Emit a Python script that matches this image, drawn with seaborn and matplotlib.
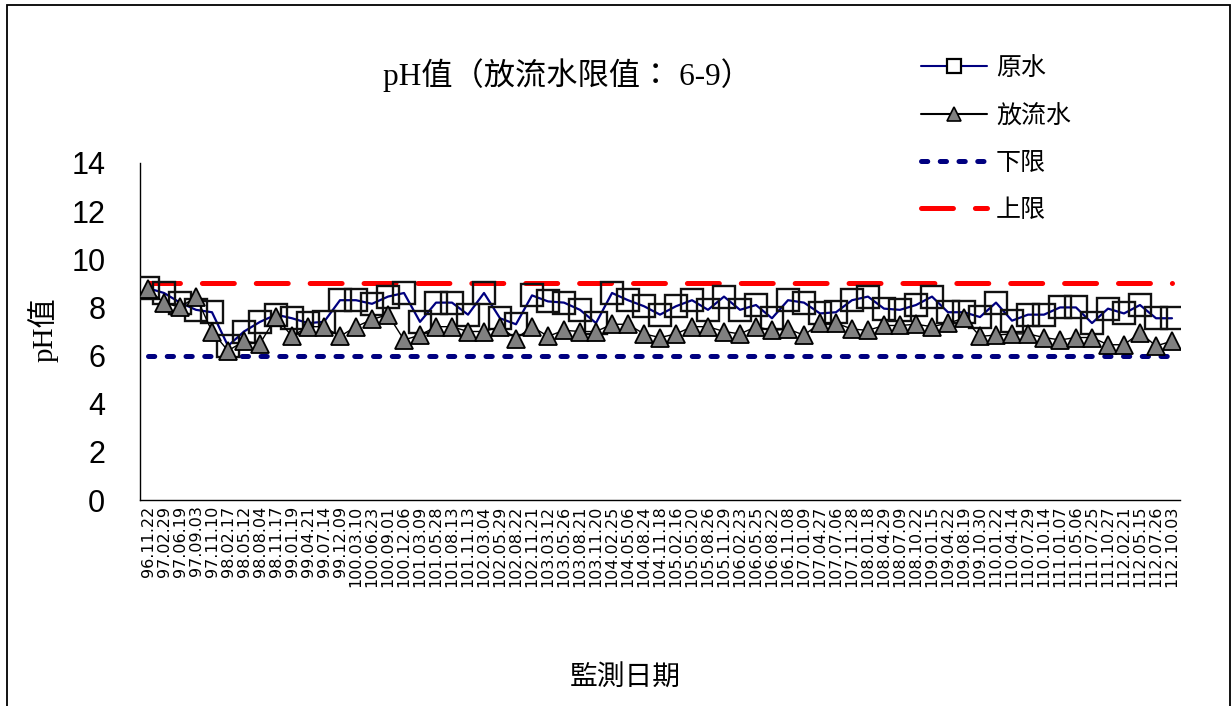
import numpy as np
import pandas as pd
import matplotlib
matplotlib.use("Agg")
import matplotlib.pyplot as plt
import seaborn as sns
from matplotlib.lines import Line2D
from matplotlib.patches import Rectangle
from matplotlib.font_manager import FontProperties

# ---------------- data ----------------
dates = [
    "96.11.22", "97.02.29", "97.06.19", "97.09.03", "97.11.10", "98.02.17", "98.05.12",
    "98.08.04", "98.11.17", "99.01.19", "99.04.21", "99.07.14", "99.12.09", "100.03.10",
    "100.06.23", "100.09.01", "100.12.06", "101.03.09", "101.05.28", "101.08.13",
    "101.11.13", "102.03.04", "102.05.29", "102.08.22", "102.11.21", "103.03.12",
    "103.05.26", "103.08.21", "103.11.20", "104.02.25", "104.05.06", "104.08.24",
    "104.11.18", "105.02.16", "105.05.20", "105.08.26", "105.11.29", "106.02.23",
    "106.05.25", "106.08.22", "106.11.08", "107.01.09", "107.04.27", "107.07.06",
    "107.11.28", "108.01.18", "108.04.29", "108.07.09", "108.10.22", "109.01.15",
    "109.04.22", "109.08.19", "109.10.30", "110.01.22", "110.04.14", "110.07.29",
    "110.10.14", "111.01.07", "111.05.06", "111.07.25", "111.10.27", "112.02.21",
    "112.05.15", "112.07.26", "112.10.03",
]
raw_ph = [
    8.8, 8.6, 8.2, 7.9, 7.8, 6.4, 7.0, 7.4, 7.7, 7.55, 7.35, 7.4, 8.3, 8.3, 8.15,
    8.45, 8.6, 7.4, 8.2, 8.2, 7.7, 8.6, 7.55, 7.3, 8.5, 8.25, 8.2, 7.9, 7.35, 8.6,
    8.3, 8.05, 7.7, 8.05, 8.3, 7.9, 8.45, 7.9, 8.1, 7.55, 8.3, 8.2, 7.75, 7.8, 8.3,
    8.45, 7.95, 7.9, 8.1, 8.45, 7.8, 7.8, 7.6, 8.2, 7.45, 7.7, 7.7, 8.0, 8.0, 7.35,
    7.95, 7.75, 8.1, 7.55, 7.55,
]
effluent_ph = [
    8.75, 8.2, 8.0, 8.45, 7.0, 6.2, 6.6, 6.5, 7.6, 6.8, 7.2, 7.2, 6.8, 7.2, 7.5,
    7.7, 6.65, 6.85, 7.2, 7.2, 7.0, 7.0, 7.2, 6.7, 7.2, 6.8, 7.05, 7.0, 7.0, 7.3,
    7.3, 6.9, 6.75, 6.9, 7.2, 7.2, 7.0, 6.9, 7.2, 7.05, 7.1, 6.85, 7.35, 7.35, 7.1,
    7.05, 7.25, 7.25, 7.3, 7.2, 7.35, 7.55, 6.8, 6.85, 6.9, 6.9, 6.75, 6.65, 6.75,
    6.75, 6.45, 6.45, 6.95, 6.4, 6.6,
]
LOWER_LIMIT = 6
UPPER_LIMIT = 9
y_ticks = [0, 2, 4, 6, 8, 10, 12, 14]

series_labels = ["原水", "放流水", "下限", "上限"]
title_text = "pH值（放流水限值： 6-9）"
ylabel_text = "pH值"
xlabel_text = "監測日期"

n = len(dates)
df = pd.DataFrame({
    "idx": np.arange(n),
    "date": dates,
    "raw": raw_ph,
    "eff": effluent_ph,
    "lower": [LOWER_LIMIT] * n,
    "upper": [UPPER_LIMIT] * n,
})

# ---------------- style ----------------
sns.set_style("white")
plt.rcParams["font.family"] = ["Liberation Sans", "Noto Sans CJK TC", "DejaVu Sans"]
plt.rcParams["lines.scale_dashes"] = False
plt.rcParams["text.color"] = "black"
plt.rcParams["xtick.color"] = "black"
plt.rcParams["ytick.color"] = "black"
plt.rcParams["xtick.labelcolor"] = "black"
plt.rcParams["ytick.labelcolor"] = "black"

W, H = 1232, 706
fig = plt.figure(figsize=(W / 100, H / 100), dpi=100)
fig.patch.set_facecolor("white")
ax = fig.add_axes([140 / W, 1 - 500 / H, 1040 / W, 337 / H])

NAVY = "#000080"
RED = "#FF0000"

# limits
sns.lineplot(data=df, x="idx", y="lower", ax=ax, color=NAVY, linewidth=3.6,
             sort=False, errorbar=None, zorder=2)
l_low = ax.lines[-1]
l_low.set_linestyle((0, (4.5, 9.0)))
l_low.set_dash_capstyle("round")

sns.lineplot(data=df, x="idx", y="upper", ax=ax, color=RED, linewidth=3.6,
             sort=False, errorbar=None, zorder=2)
l_up = ax.lines[-1]
l_up.set_linestyle((0, (23.0, 15.8)))
l_up.set_dash_capstyle("round")

# raw water
sns.lineplot(data=df, x="idx", y="raw", ax=ax, color=NAVY, linewidth=1.6,
             marker="s", markersize=15.5, markerfacecolor="none",
             markeredgecolor="#111111", markeredgewidth=1.7,
             sort=False, errorbar=None, zorder=3)

# effluent
sns.lineplot(data=df, x="idx", y="eff", ax=ax, color="black", linewidth=1.0,
             marker="^", markersize=13.5, markerfacecolor="#808080",
             markeredgecolor="black", markeredgewidth=1.3,
             sort=False, errorbar=None, zorder=4)

# axes
ax.set_xlim(-0.5, n - 0.5)
ax.set_ylim(0, 14)
ax.set_xlabel("")
ax.set_ylabel("")
ax.set_xticks(np.arange(n))
ax.set_xticklabels(dates, rotation=90, fontsize=11.5, family="DejaVu Sans", va="top",
                   color="black")
ax.tick_params(axis="x", which="major", length=0, pad=4)
ax.set_xticks(np.arange(-0.5, n, 1), minor=True)
ax.tick_params(axis="x", which="minor", direction="in", length=4.3, width=0.8,
               color="black")
ax.set_yticks(y_ticks)
ax.set_yticklabels([str(v) for v in y_ticks], fontsize=22, family="Liberation Sans",
                   color="black")
ax.tick_params(axis="y", direction="in", length=7, width=0.8, pad=25, color="black")
for s in ["top", "right"]:
    ax.spines[s].set_visible(False)
for s in ["left", "bottom"]:
    ax.spines[s].set_color("black")
    ax.spines[s].set_linewidth(1.0)
ax.grid(False)

# legend
handles = [
    Line2D([], [], color=NAVY, lw=1.5, marker="s", markersize=10.5,
           markerfacecolor="white", markeredgecolor="black", markeredgewidth=1.6),
    Line2D([], [], color="black", lw=1.5, marker="^", markersize=10.5,
           markerfacecolor="#808080", markeredgecolor="black", markeredgewidth=1.2),
    Line2D([], [], color=NAVY, lw=3.6, linestyle=(0, (4.5, 9.0)),
           dash_capstyle="round"),
    Line2D([], [], color=RED, lw=3.6, linestyle=(0, (23.0, 15.8)),
           dash_capstyle="round"),
]
leg = ax.legend(handles=handles, labels=series_labels, loc="upper left",
                bbox_to_anchor=(921 / W, 1 - 55 / H), bbox_transform=fig.transFigure,
                frameon=False, borderpad=0, borderaxespad=0, handlelength=2.64,
                handletextpad=0.36, labelspacing=0.85,
                prop=FontProperties(family=["Noto Sans CJK TC"], size=18))
for t in leg.get_texts():
    t.set_color("black")

# texts
serif_cjk = ["Liberation Serif", "Noto Sans CJK TC"]
fig.text(567 / W, 1 - 75 / H, title_text, ha="center", va="center",
         fontsize=22.5, family=serif_cjk, color="black")
fig.text(43 / W, 1 - 330 / H, ylabel_text, ha="center", va="center",
         rotation=90, fontsize=21, family=serif_cjk, color="black")
fig.text(625 / W, 1 - 678 / H, xlabel_text, ha="center", va="center",
         fontsize=20, family=["Noto Sans CJK TC"], color="black")

# outer chart border
fig.add_artist(Rectangle((7 / W, -0.05), (1230 - 7) / W, 1 - 5 / H + 0.05,
                         transform=fig.transFigure, fill=False,
                         edgecolor="black", linewidth=1.3))

fig.savefig("out.png", dpi=100, facecolor="white")
